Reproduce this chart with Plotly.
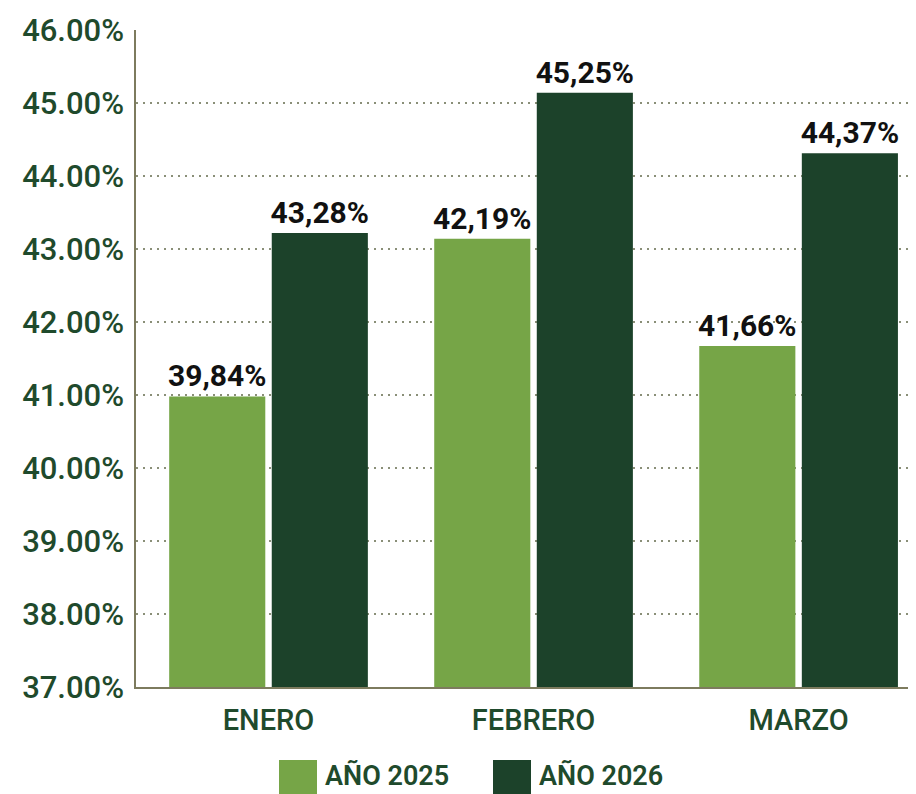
import plotly.graph_objects as go

# %%
meses = ["ENERO", "FEBRERO", "MARZO"]
series = ["AÑO 2025", "AÑO 2026"]
# alturas de las barras tal como se ven en el gráfico
valores_2025 = [40.98, 43.14, 41.67]
valores_2026 = [43.22, 45.14, 44.31]
# etiquetas impresas sobre cada barra
etiquetas_2025 = ["39,84%", "42,19%", "41,66%"]
etiquetas_2026 = ["43,28%", "45,25%", "44,37%"]
ticks_y = [37, 38, 39, 40, 41, 42, 43, 44, 45, 46]
ticks_y_texto = [f"{t:.2f}%" for t in ticks_y]

colores = ["#76a547", "#1c422a"]
verde_texto = "#1f4a2c"

# la página html tiene 8px de margen en el body
OFF = 8
W, H = 916 - OFF, 794 - OFF
L, R, T, B = 136 - OFF, 0, 30 - OFF, 794 - 687

# %%
fig = go.Figure()
for nombre, vals, etiq, color in zip(
    series, [valores_2025, valores_2026], [etiquetas_2025, etiquetas_2026], colores
):
    fig.add_trace(
        go.Bar(
            x=meses,
            y=vals,
            name=nombre,
            text=etiq,
            textposition="outside",
            constraintext="none",
            cliponaxis=False,
            marker=dict(color=color, line=dict(width=0)),
            textfont=dict(
                family="Roboto, sans-serif",
                size=30,
                color="#111111",
                weight="bold",
            ),
            showlegend=False,
        )
    )

fig.update_layout(
    width=W,
    height=H,
    margin=dict(l=L, r=R, t=T, b=B),
    plot_bgcolor="white",
    paper_bgcolor="white",
    barmode="group",
    bargap=0.226,
    bargroupgap=0.063,
    font=dict(family="Roboto, sans-serif", color=verde_texto),
)
fig.update_yaxes(
    range=[37, 46],
    tickvals=ticks_y,
    ticktext=ticks_y_texto,
    tickfont=dict(size=31, color=verde_texto, weight=500),
    ticks="",
    ticklabelstandoff=4,
    showgrid=True,
    gridcolor="#8a8f78",
    griddash="2px,5px",
    gridwidth=2,
    zeroline=False,
    showline=True,
    linecolor="#7d7b5e",
    linewidth=1.5,
)
fig.update_xaxes(
    range=[-0.5, 2.443],
    tickfont=dict(size=29, color=verde_texto, weight=500),
    ticks="",
    ticklabelstandoff=6,
    showline=True,
    linecolor="#7d7b5e",
    linewidth=1.5,
)

# leyenda dibujada a mano (cuadros grandes como en el original)
ancho_plot = W - L - R
alto_plot = H - T - B


def px_x(px):
    return (px - OFF - L) / ancho_plot


def px_y(py):
    return (H - B - (py - OFF)) / alto_plot


for nombre, color, x0 in zip(series, colores, [279, 493]):
    fig.add_shape(
        type="rect",
        xref="paper",
        yref="paper",
        x0=px_x(x0),
        x1=px_x(x0 + 38),
        y0=px_y(760),
        y1=px_y(800),
        fillcolor=color,
        line=dict(width=0),
    )
    fig.add_annotation(
        text=nombre,
        xref="paper",
        yref="paper",
        x=px_x(x0 + 44),
        y=px_y(776),
        xanchor="left",
        yanchor="middle",
        showarrow=False,
        font=dict(size=27, color=verde_texto, weight=600),
    )

fig.write_html("out.html")
